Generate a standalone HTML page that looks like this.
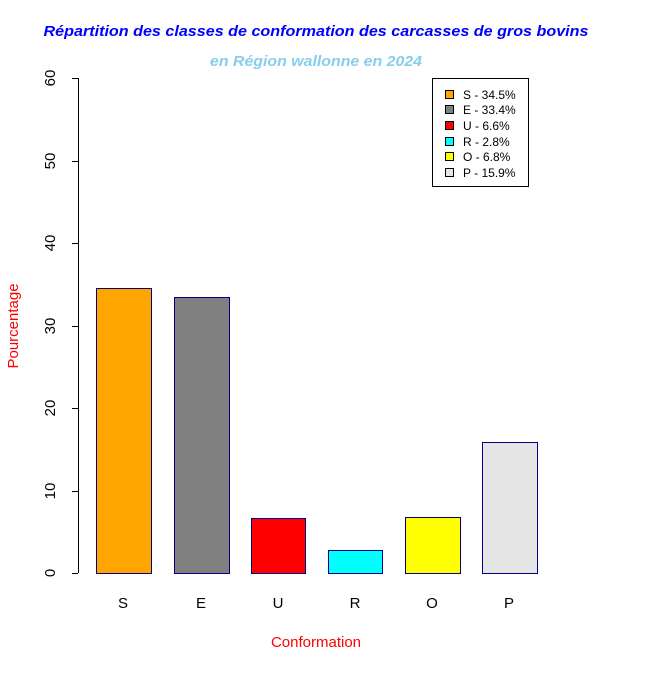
<!DOCTYPE html><html><head><style>body{margin:0;background:#fff}</style></head><body>
<svg width="672" height="671" xmlns="http://www.w3.org/2000/svg" font-family="Liberation Sans, Arial, sans-serif">
<rect width="672" height="671" fill="#fff"/>
<text x="316" y="36" text-anchor="middle" font-size="15" font-weight="bold" font-style="italic" fill="#0000ff" textLength="545" lengthAdjust="spacingAndGlyphs">Répartition des classes de conformation des carcasses de gros bovins</text>
<text x="316" y="66" text-anchor="middle" font-size="15" font-weight="bold" font-style="italic" fill="#87ceeb" textLength="212" lengthAdjust="spacingAndGlyphs">en Région wallonne en 2024</text>
<g stroke="#000" stroke-width="1">
<line x1="78.5" y1="78" x2="78.5" y2="573"/>
<line x1="72" y1="573.5" x2="78" y2="573.5"/><line x1="72" y1="491.5" x2="78" y2="491.5"/><line x1="72" y1="408.5" x2="78" y2="408.5"/><line x1="72" y1="326.5" x2="78" y2="326.5"/><line x1="72" y1="243.5" x2="78" y2="243.5"/><line x1="72" y1="161.5" x2="78" y2="161.5"/><line x1="72" y1="78.5" x2="78" y2="78.5"/>
</g>
<g font-size="15" fill="#000" text-anchor="middle">
<text transform="translate(55,573) rotate(-90)">0</text>
<text transform="translate(55,491) rotate(-90)">10</text>
<text transform="translate(55,408) rotate(-90)">20</text>
<text transform="translate(55,326) rotate(-90)">30</text>
<text transform="translate(55,243) rotate(-90)">40</text>
<text transform="translate(55,161) rotate(-90)">50</text>
<text transform="translate(55,78) rotate(-90)">60</text>
</g>
<text transform="translate(18,326) rotate(-90)" font-size="15" fill="#ff0000" text-anchor="middle">Pourcentage</text>
<text x="316" y="647" font-size="15" fill="#ff0000" text-anchor="middle">Conformation</text>
<g stroke="#00008b" stroke-width="1">
<rect x="96.5" y="288.5" width="55" height="285" fill="#ffa500"/>
<rect x="174.5" y="297.5" width="55" height="276" fill="#808080"/>
<rect x="251.5" y="518.5" width="54" height="55" fill="#ff0000"/>
<rect x="328.5" y="550.5" width="54" height="23" fill="#00ffff"/>
<rect x="405.5" y="517.5" width="55" height="56" fill="#ffff00"/>
<rect x="482.5" y="442.5" width="55" height="131" fill="#e5e5e5"/>
</g>
<g font-size="15" fill="#000" text-anchor="middle">
<text x="123" y="608">S</text><text x="201" y="608">E</text><text x="278" y="608">U</text><text x="355" y="608">R</text><text x="432" y="608">O</text><text x="509" y="608">P</text>
</g>
<rect x="432.5" y="78.5" width="96" height="108" fill="#fff" stroke="#000"/>
<g stroke="#000" stroke-width="1">
<rect x="445.5" y="90.5" width="8" height="8" fill="#ffa500"/>
<rect x="445.5" y="105.5" width="8" height="8" fill="#808080"/>
<rect x="445.5" y="121.5" width="8" height="8" fill="#ff0000"/>
<rect x="445.5" y="137.5" width="8" height="8" fill="#00ffff"/>
<rect x="445.5" y="152.5" width="8" height="8" fill="#ffff00"/>
<rect x="445.5" y="168.5" width="8" height="8" fill="#e5e5e5"/>
</g>
<g font-size="12" fill="#000">
<text x="463" y="99">S - 34.5%</text>
<text x="463" y="114">E - 33.4%</text>
<text x="463" y="130">U - 6.6%</text>
<text x="463" y="146">R - 2.8%</text>
<text x="463" y="161">O - 6.8%</text>
<text x="463" y="177">P - 15.9%</text>
</g>
</svg>
</body></html>
